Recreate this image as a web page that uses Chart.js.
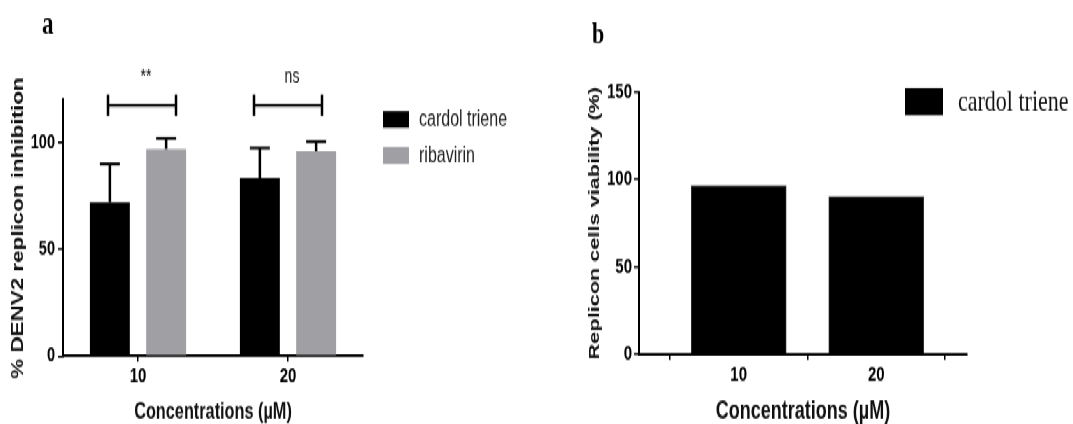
<!DOCTYPE html>
<html><head><meta charset="utf-8">
<script src="https://cdn.jsdelivr.net/npm/chart.js@4"></script>
<style>
html,body{margin:0;padding:0;background:#fff;overflow:hidden;}
#stage{position:absolute;left:0;top:0;width:1073px;height:303px;transform:scaleY(1.4);transform-origin:0 0;}
#wa{position:absolute;left:0;top:0;width:560px;height:303px;}
#wb{position:absolute;left:560px;top:0;width:513px;height:303px;}
</style></head><body>
<div id="stage"><div id="wa"><canvas id="ca"></canvas></div><div id="wb"><canvas id="cb"></canvas></div></div>
<script>
// ---- data ----
const categories = ['10', '20'];
const cardolInhibition = [72, 83.5];
const cardolInhibitionSD = [18, 14];
const ribavirinInhibition = [97, 96];
const ribavirinInhibitionSD = [5, 4.5];
const significance = ['**', 'ns'];
const yTicksA = [0, 50, 100];
const concentrationsB = [10, 20];
const viabilityB = [96.5, 90];
const yTicksB = [0, 50, 100, 150];
const seriesNames = ['cardol triene', 'ribavirin'];

const SANS = "'Liberation Sans', Arial, sans-serif";
const SERIF = "'Liberation Serif', 'Times New Roman', serif";
Chart.defaults.font.family = SANS;
Chart.defaults.color = '#000';
const BLACK = '#000000', GRAY = '#a09fa4';

// ---- chart a ----
const annotA = {
  id: 'annotA',
  afterDatasetsDraw(chart) {
    const ctx = chart.ctx, xs = chart.scales.x, ys = chart.scales.y;
    ctx.save();
    ctx.strokeStyle = '#000';
    [[0, cardolInhibitionSD], [1, ribavirinInhibitionSD]].forEach(([di, sd]) => {
      const meta = chart.getDatasetMeta(di);
      meta.data.forEach((bar, i) => {
        const v = chart.data.datasets[di].data[i];
        const yt = ys.getPixelForValue(v + sd[i]);
        ctx.lineWidth = 2.5;
        ctx.beginPath();
        ctx.moveTo(bar.x, bar.y); ctx.lineTo(bar.x, yt);
        ctx.stroke();
        ctx.lineWidth = 2;
        ctx.beginPath();
        ctx.moveTo(bar.x - 10, yt); ctx.lineTo(bar.x + 10, yt);
        ctx.stroke();
      });
    });
    // significance brackets
    significance.forEach((lab, i) => {
      const cx = xs.getPixelForValue(i) + (i === 0 ? 4 : 0);
      const yb = ys.getPixelForValue(117.5);
      const y1 = ys.getPixelForValue(122.5), y2 = ys.getPixelForValue(112.5);
      ctx.lineWidth = 2;
      ctx.beginPath(); ctx.moveTo(cx - 34, yb); ctx.lineTo(cx + 34, yb); ctx.stroke();
      ctx.lineWidth = 2.5;
      ctx.beginPath();
      ctx.moveTo(cx - 34, y1); ctx.lineTo(cx - 34, y2);
      ctx.moveTo(cx + 34, y1); ctx.lineTo(cx + 34, y2);
      ctx.stroke();
      ctx.fillStyle = '#111';
      ctx.font = '14px ' + SANS;
      ctx.textAlign = 'center'; ctx.textBaseline = 'alphabetic';
      ctx.fillText(lab, cx + 4, ys.getPixelForValue(128));
    });
    ctx.restore();
  },
  afterDraw(chart) {
    const ctx = chart.ctx, ca = chart.chartArea;
    ctx.save();
    const lx = ca.right + 20;
    [[BLACK, 79.3], [GRAY, 105]].forEach(([c, y], i) => {
      ctx.fillStyle = c; ctx.fillRect(lx, y, 26, 12);
      ctx.fillStyle = '#222'; ctx.font = '16px ' + SANS;
      ctx.textAlign = 'left'; ctx.textBaseline = 'middle';
      ctx.fillText(seriesNames[i], lx + 36, y + 6.5);
    });
    ctx.fillStyle = '#000';
    ctx.font = 'bold 23px ' + SERIF;
    ctx.textAlign = 'left'; ctx.textBaseline = 'alphabetic';
    ctx.fillText('a', 42, 23.6);
    ctx.restore();
  }
};

new Chart(document.getElementById('ca'), {
  type: 'bar',
  data: {
    labels: categories,
    datasets: [
      { label: seriesNames[0], data: cardolInhibition, backgroundColor: BLACK, categoryPercentage: 0.75, barPercentage: 0.71 },
      { label: seriesNames[1], data: ribavirinInhibition, backgroundColor: GRAY, categoryPercentage: 0.75, barPercentage: 0.71 }
    ]
  },
  options: {
    responsive: true, maintainAspectRatio: false, animation: false,
    layout: { padding: { top: 71.4, right: 197, bottom: 0, left: 0 } },
    plugins: { legend: { display: false }, tooltip: { enabled: false } },
    scales: {
      x: {
        offset: true,
        grid: { offset: false, drawOnChartArea: false, drawTicks: true, tickLength: 4, color: '#000', lineWidth: 1.5 },
        border: { display: true, color: '#000', width: 2 },
        ticks: { font: { size: 15, weight: 'bold' }, color: '#000', padding: 2 },
        title: { display: true, text: 'Concentrations (\u00b5M)', font: { size: 16.3, weight: 'bold', lineHeight: 1 }, color: '#111', padding: { top: 0, bottom: 0 } },
        afterFit(s) { s.height = 48.7; }
      },
      y: {
        min: 0, max: 120,
        afterBuildTicks(s) { s.ticks = yTicksA.map(v => ({ value: v })); },
        grid: { drawOnChartArea: false, drawTicks: true, tickLength: 5, color: '#000', lineWidth: 1.5 },
        border: { display: true, color: '#000', width: 2 },
        ticks: { font: { size: 14.5, weight: 'bold' }, color: '#000', padding: 3 },
        title: { display: true, text: '% DENV2 replicon inhibition', font: { size: 16, weight: 'bold' }, color: '#111', padding: { top: 9.4, bottom: 0 } },
        afterFit(s) { s.width = 63; }
      }
    }
  },
  plugins: [annotA]
});

// ---- chart b ----
const annotB = {
  id: 'annotB',
  afterDraw(chart) {
    const ctx = chart.ctx;
    ctx.save();
    ctx.fillStyle = BLACK;
    ctx.fillRect(345, 62.9, 38, 19.3);
    ctx.fillStyle = '#111';
    ctx.font = '22px ' + SERIF;
    ctx.textAlign = 'left'; ctx.textBaseline = 'alphabetic';
    ctx.fillText(seriesNames[0], 398, 78.6);
    ctx.fillStyle = '#000';
    ctx.font = 'bold 22px ' + SERIF;
    ctx.fillText('b', 32, 30.7);
    ctx.restore();
  }
};

new Chart(document.getElementById('cb'), {
  type: 'bar',
  data: {
    datasets: [
      { label: seriesNames[0], data: concentrationsB.map((c, i) => ({ x: c, y: viabilityB[i] })), backgroundColor: BLACK, borderColor: '#333', borderWidth: 1, barThickness: 95 }
    ]
  },
  options: {
    responsive: true, maintainAspectRatio: false, animation: false,
    layout: { padding: { top: 65.7, right: 106, bottom: 0, left: 0 } },
    plugins: { legend: { display: false }, tooltip: { enabled: false } },
    scales: {
      x: {
        type: 'linear', min: 2.75, max: 26.6, offset: false,
        afterBuildTicks(s) { s.ticks = concentrationsB.map(v => ({ value: v })); },
        grid: { drawOnChartArea: false, drawTicks: true, tickLength: 4, color: '#000', lineWidth: 1.5 },
        border: { display: true, color: '#000', width: 2 },
        ticks: { font: { size: 15, weight: 'bold' }, color: '#000', padding: 2, callback: v => String(v) },
        title: { display: true, text: 'Concentrations (\u00b5M)', font: { size: 18, weight: 'bold', lineHeight: 1 }, color: '#111', padding: { top: 0, bottom: 0 } },
        afterFit(s) { s.height = 50.1; }
      },
      y: {
        min: 0, max: 150,
        afterBuildTicks(s) { s.ticks = yTicksB.map(v => ({ value: v })); },
        grid: { drawOnChartArea: false, drawTicks: true, tickLength: 5, color: '#000', lineWidth: 1.5 },
        border: { display: true, color: '#000', width: 2 },
        ticks: { font: { size: 15, weight: 'bold' }, color: '#000', padding: 2 },
        title: { display: true, text: 'Replicon cells viability (%)', font: { size: 15.5, weight: 'bold' }, color: '#111', padding: { top: 25.7, bottom: 0 } },
        afterFit(s) { s.width = 79; }
      }
    }
  },
  plugins: [annotB]
});
</script>
</body></html>
